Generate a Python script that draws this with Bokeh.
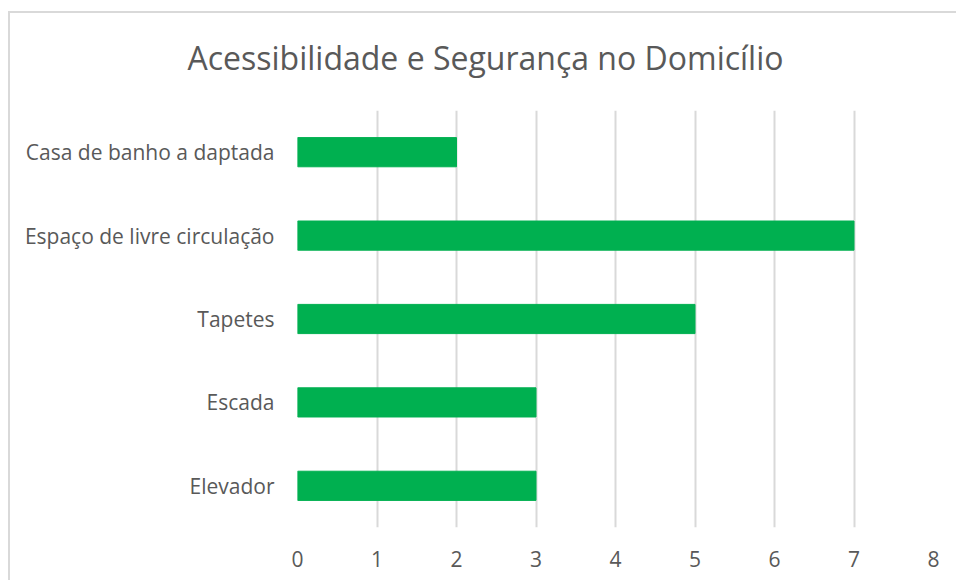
from bokeh.plotting import figure
from bokeh.models import FactorRange, Range1d, FixedTicker
from bokeh.embed import file_html
from bokeh.resources import INLINE

categories = ["Elevador", "Escada", "Tapetes", "Espaço de livre circulação", "Casa de banho a daptada"]
values = [3, 3, 5, 7, 2]
x_ticks = [0, 1, 2, 3, 4, 5, 6, 7, 8]
title_text = "Acessibilidade e Segurança no Domicílio"

TEXT = "#595959"
GRID = "#d9d9d9"
FONT = "Open Sans"

p = figure(
    y_range=FactorRange(*categories),
    x_range=Range1d(0, 8),
    width=948, height=580,
    frame_width=636, frame_height=417,
    min_border_left=289, min_border_right=23,
    min_border_top=110, min_border_bottom=53,
    output_backend="svg", toolbar_location=None,
)
p.styles = {
    "margin-left": "8px",
    "background": "linear-gradient(#d9d9d9, #d9d9d9) 0 11px / 100% 2px no-repeat, "
                  "linear-gradient(#d9d9d9, #d9d9d9) 0 11px / 2px 100% no-repeat, white",
}

p.hbar(y=categories, right=values, left=0, height=0.35, color="#00b050")

p.title.text = title_text
p.title.text_font = FONT
p.title.text_font_size = "32px"
p.title.text_font_style = "normal"
p.title.text_color = TEXT
p.title.align = "left"
p.title.offset = -110
p.title.standoff = 64

p.outline_line_color = None
p.background_fill_color = "white"
p.border_fill_alpha = 0

p.xgrid.ticker = FixedTicker(ticks=x_ticks)
p.xgrid.grid_line_color = GRID
p.xgrid.grid_line_width = 2
p.ygrid.grid_line_color = None

p.xaxis.ticker = FixedTicker(ticks=x_ticks)
p.xaxis.axis_line_color = None
p.xaxis.major_tick_line_color = None
p.xaxis.minor_tick_line_color = None
p.xaxis.major_tick_out = 0
p.xaxis.major_label_text_font = FONT
p.xaxis.major_label_text_font_size = "21px"
p.xaxis.major_label_text_color = TEXT
p.xaxis.major_label_standoff = 23

p.yaxis.axis_line_color = None
p.yaxis.major_tick_line_color = None
p.yaxis.minor_tick_line_color = None
p.yaxis.major_tick_out = 0
p.yaxis.major_label_text_font = FONT
p.yaxis.major_label_text_font_size = "21px"
p.yaxis.major_label_text_color = TEXT
p.yaxis.major_label_standoff = 23

open("out.html", "w").write(file_html(p, INLINE))
